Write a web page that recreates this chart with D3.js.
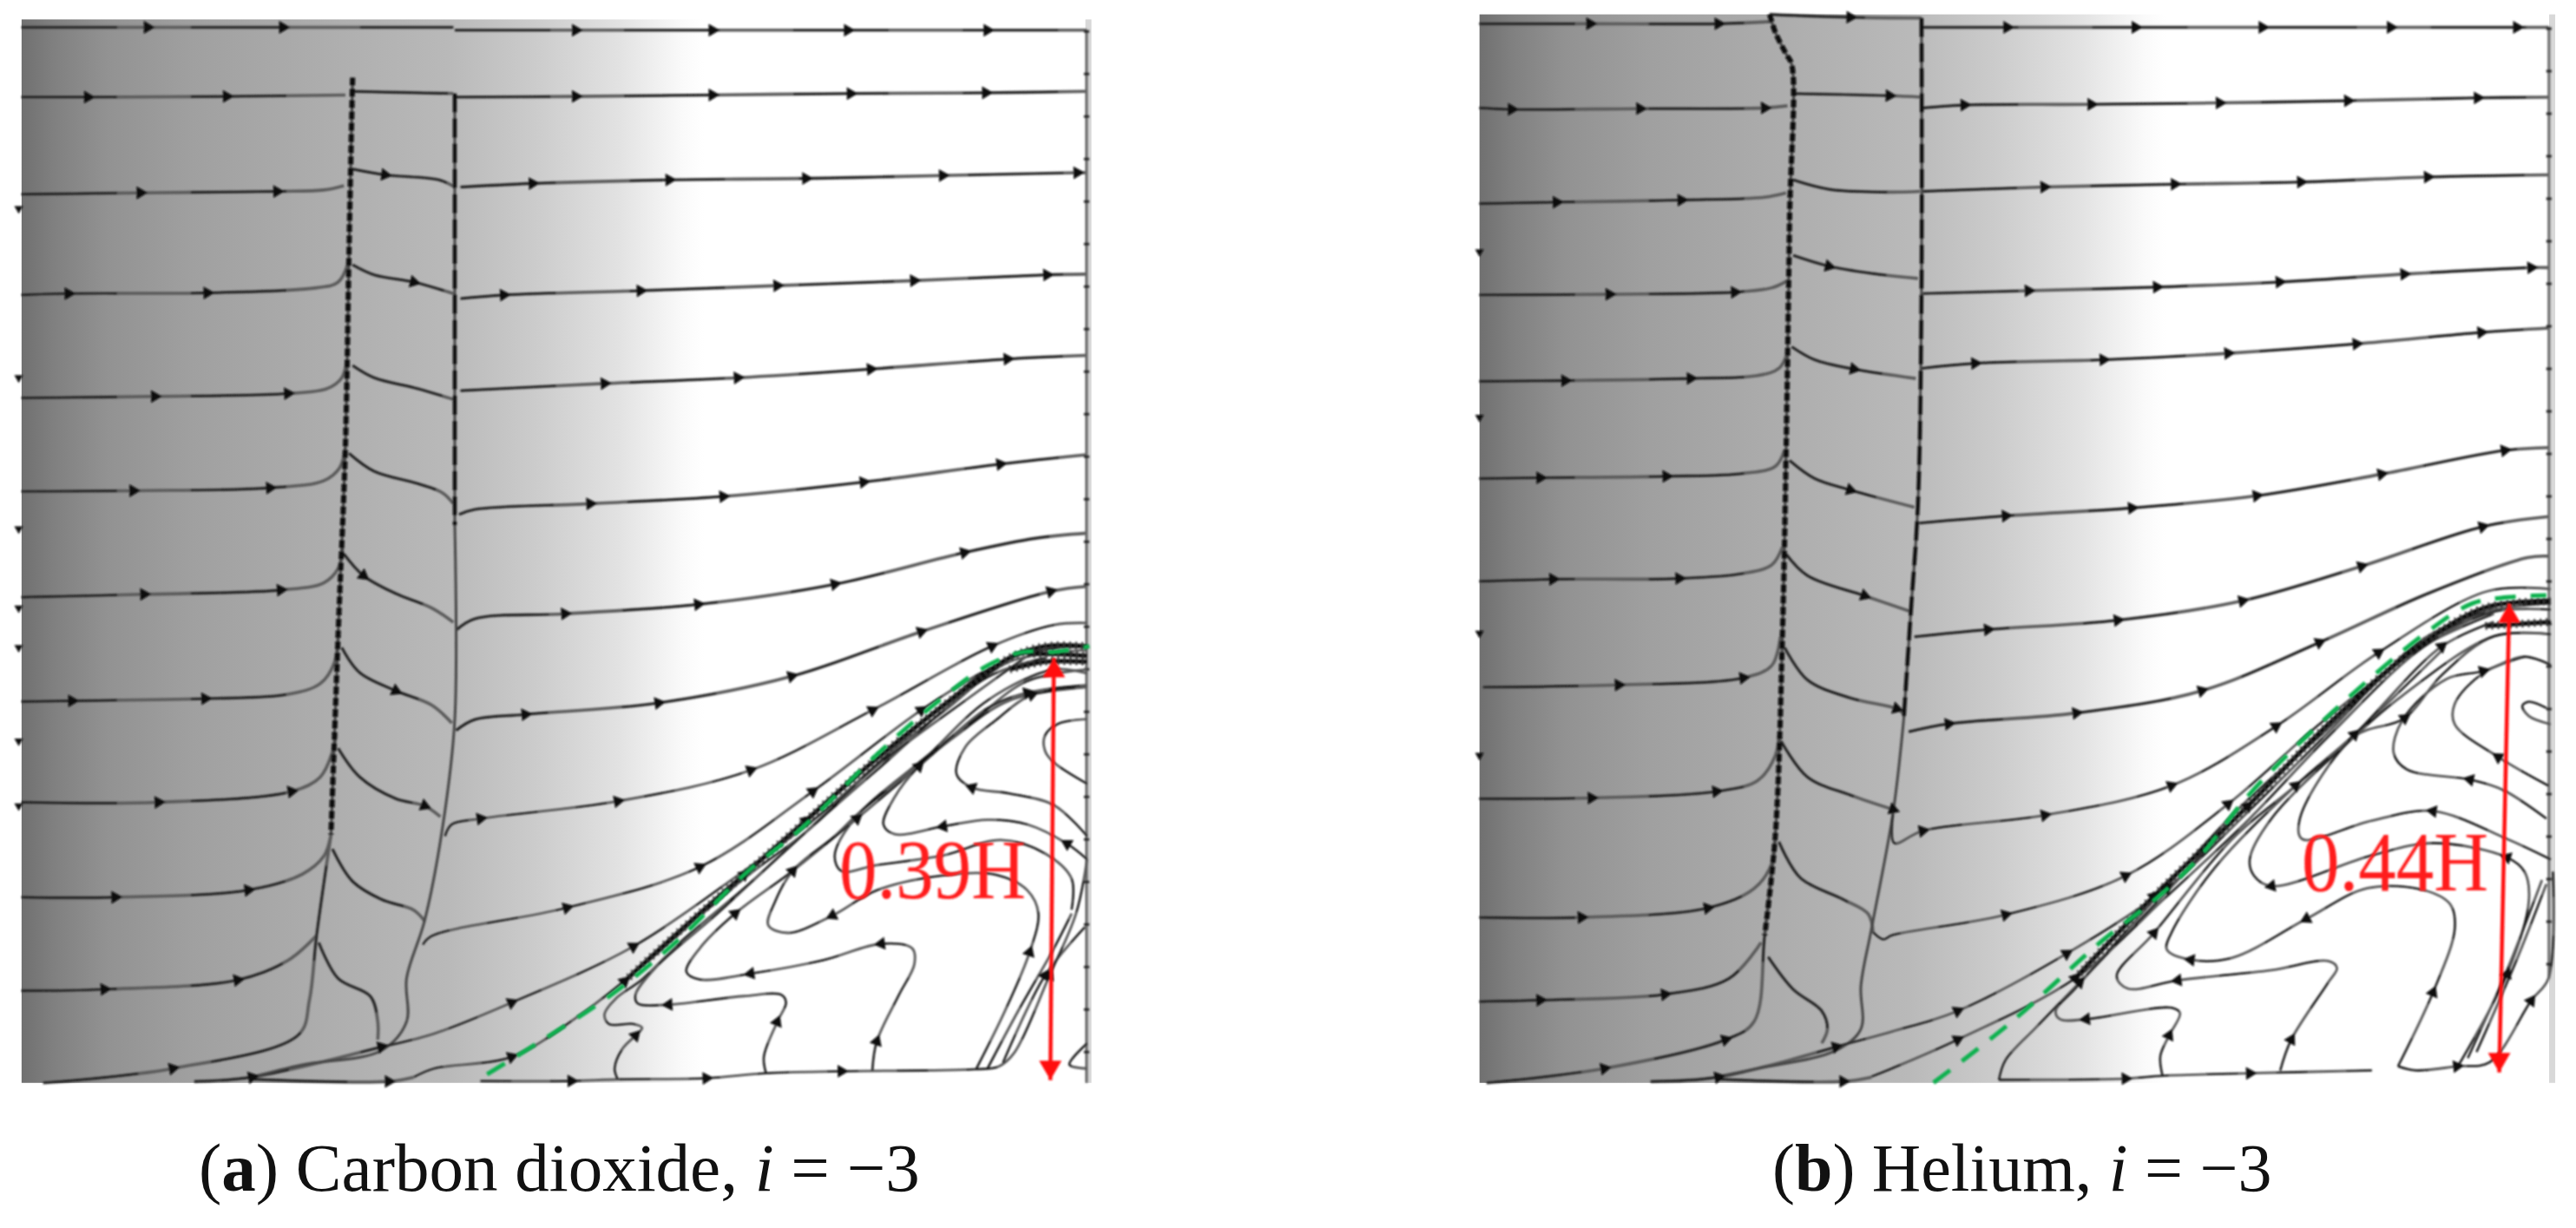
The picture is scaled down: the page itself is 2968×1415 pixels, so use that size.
<!DOCTYPE html>
<html><head><meta charset="utf-8">
<style>html,body{margin:0;background:#fff}svg{display:block}</style>
<script src="https://cdn.jsdelivr.net/npm/d3@7/dist/d3.min.js"></script>
</head><body><svg id="c" width="2968" height="1415"></svg>
<script>
// digitised in two reading grids: upper = whole panel crop, lower = recirculation crop. [x,y,arrowFlag]
const gradOffsets=[0,0.03,0.08,0.16,0.31,0.40,0.48,0.56,0.62,0.64,1];
const gradGreys=[112,128,146,160,176,185,203,226,250,255,255];

const aStreamUpper=[
[[30,38],[205,38,1],[393,38,1],[480,38],[630,38]],
[[632,42],[800,42,1],[990,42,1],[1178,42,1],[1372,42,1],[1510,42]],
[[30,135],[122,135,1],[315,134,1],[480,132]],
[[490,127],[630,130]],
[[632,135],[800,134,1],[990,132,1],[1182,130,1],[1370,129,1],[1510,127]],
[[30,270],[195,268,1],[385,266,1],[450,264],[478,258]],
[[490,235],[535,243,1],[610,250],[632,260]],
[[640,260],[740,255,1],[930,250,1],[1120,248,1],[1310,244,1],[1497,240,1],[1510,240]],
[[30,410],[95,408,1],[288,407,1],[440,400],[470,392],[484,365]],
[[490,368],[520,382],[575,392,1],[630,408]],
[[640,415],[700,410,1],[890,404,1],[1080,397,1],[1270,390,1],[1455,382,1],[1510,381]],
[[30,553],[215,551,1],[400,547,1],[455,540],[475,525],[482,500]],
[[490,508],[520,525],[580,540],[630,555]],
[[640,543],[840,533,1],[1025,525,1],[1210,513,1],[1400,499,1],[1510,494]],
[[30,683],[185,682,1],[375,678,1],[450,668],[472,650],[480,622]],
[[485,630],[520,655],[580,672],[615,685],[630,700]],
[[638,715],[660,708],[820,700,1],[1005,690,1],[1200,670,1],[1390,645,1],[1510,632]],
[[30,830],[200,826,1],[390,820,1],[450,810],[470,790],[476,760]],
[[478,770],[505,800,1],[550,825],[600,845],[630,865]],
[[635,875],[660,860],[785,853,1],[970,840,1],[1160,812,1],[1340,768,1],[1440,748],[1510,741]],
[[30,975],[100,974,1],[285,971,1],[400,965],[445,950],[465,920],[470,880]],
[[475,900],[500,935],[550,960,1],[600,980],[628,1005]],
[[634,1015],[660,1000],[730,993,1],[915,977,1],[1100,940,1],[1280,878,1],[1460,822,1],[1510,815]],
[[30,1115],[220,1115,1],[405,1100,1],[445,1080],[462,1045],[467,1020]],
[[470,1040],[500,1080],[550,1110],[590,1120,1],[612,1135]],
[[30,1247],[160,1247,1],[345,1237,1],[420,1215],[450,1190],[460,1160]],
[[462,1180],[490,1225],[530,1250],[575,1265],[590,1280]],
[[30,1377],[145,1375,1],[330,1362,1],[400,1335],[440,1300]],
[[443,1310],[470,1360],[515,1385],[525,1420],[525,1445]],
[[60,1505],[240,1485,1],[415,1438],[430,1390],[440,1300],[460,1160]],
[[270,1503],[350,1497,1],[530,1455,1]],
[[350,1500],[540,1503,1],[575,1497]]
];
const aLeftTicks=[[[26,290,1],[26,525,1],[26,735,1],[26,845,1],[26,900,1],[26,1030,1],[26,1120,1]]];
const aShock=[
[[490,108],[488,200],[485,350],[480,620],[470,880],[460,1160]],
[[632,130],[632,400],[632,730]],
[[632,730],[632,1000],[615,1150],[590,1280],[565,1360],[565,1420],[530,1460],[420,1480],[350,1497]]
];
const aWall=[[1510,42],[1510,1505]];
const aStreamLower=[
[[25,590],[40,560],[105,545,1],[415,500,1],[715,420,1],[990,265,1],[1260,100,1],[1400,45],[1475,40]],
[[-25,870],[-5,848],[300,775,1],[600,670,1],[855,475,1],[1100,265,1],[1250,160],[1380,100],[1475,100]],
[[-118,1134],[0,1100],[175,1020,1],[450,875,1],[700,680],[850,555],[1000,405],[1150,250],[1300,130],[1475,100]],
[[-45,1212],[0,1190],[175,1160,1],[320,1060],[450,945],[700,700],[850,570],[1010,395],[1160,260],[1300,140],[1475,110]],
[[415,1218],[408,1190],[425,1140],[455,1105,1],[470,1085],[450,1075],[395,1075],[385,1050],[410,1010],[470,960],[560,860],[700,725],[830,590],[1000,410],[1200,240],[1340,125]],
[[750,1202],[745,1160],[775,1070,1],[795,1020],[785,1000],[700,1003],[530,1025,1],[460,1022],[455,1000],[500,930],[640,790],[820,600],[1000,420],[1250,180],[1380,130]],
[[990,1195],[1000,1120,1],[1050,1000],[1085,920],[1080,880],[1010,868,1],[880,910],[715,945,1],[600,960],[570,940],[600,880],[680,790,1],[810,680],[955,545,1],[1095,410],[1250,260],[1340,220,1],[1475,200]],
[[1225,1190],[1290,1040],[1345,890,1],[1365,790],[1340,730],[1270,690],[1160,690],[1000,730],[900,795,1],[800,840],[755,820],[770,760],[810,680,1],[905,590],[960,530],[1090,410],[1250,240],[1400,160],[1475,170]],
[[1440,780],[1440,700],[1380,635],[1280,600],[1150,640],[1000,665],[920,680],[905,640],[950,545],[1090,405],[1220,290],[1340,190],[1475,160]],
[[1475,650],[1430,610,1],[1340,560],[1250,548],[1150,565,1],[1040,585],[1015,560],[1040,490],[1095,410,1],[1180,330],[1300,240],[1475,205]],
[[1475,590],[1400,510],[1300,480],[1215,465,1],[1180,430],[1200,360],[1270,290],[1350,225,1],[1475,205]],
[[1475,455],[1400,400],[1380,370],[1380,330],[1410,300],[1475,288]],
[[105,1222],[310,1222,1],[415,1218],[615,1215,1],[750,1202],[920,1197,1],[1220,1192],[1275,1185],[1310,1150],[1390,950,1],[1450,790],[1475,650]],
[[1250,1190],[1320,1040],[1400,880],[1440,790]],
[[1285,1175],[1380,950,1],[1470,825]],
[[1475,1125],[1435,1180],[1475,1190]]
];
const aThickLower=[
[[430,965,1],[560,830],[700,690,1],[840,550,1],[1000,390],[1200,210],[1300,130],[1380,100],[1475,100]],
[[1300,160],[1380,140],[1475,140]],
[[1340,120],[1400,120],[1475,125]]
];
const aGreen=[[120,1205],[240,1120],[400,1000],[550,860],[700,690],[830,570],[1000,380],[1130,250],[1250,150],[1330,115],[1400,115],[1480,100]];
const aRed=[[1400,130],[1392,1220]];

const bStreamUpper=[
[[30,33],[185,33,1],[365,33,1],[440,30]],
[[437,20],[550,24,1],[650,25]],
[[652,38],[770,38,1],[950,38,1],[1128,38,1],[1308,38,1],[1485,38,1],[1530,38]],
[[30,150],[75,152,1],[255,151,1],[430,150,1],[462,147]],
[[470,130],[605,133,1],[650,135]],
[[652,150],[710,146,1],[888,145,1],[1068,143,1],[1248,140,1],[1430,136,1],[1530,135]],
[[30,283],[138,281,1],[313,278,1],[430,274],[460,268]],
[[470,250],[520,263],[600,267],[648,266]],
[[650,266],[822,260,1],[1005,256,1],[1182,253,1],[1360,246,1],[1530,243]],
[[30,410],[212,409,1],[388,406,1],[440,400],[462,390]],
[[470,355],[520,370,1],[580,380],[645,387]],
[[652,408],[800,404,1],[980,399,1],[1152,392,1],[1327,381,1],[1505,372,1],[1530,372]],
[[30,530],[150,529,1],[326,526,1],[420,522],[450,512],[462,490]],
[[468,482],[500,500],[555,513,1],[642,526]],
[[650,512],[725,505,1],[905,500,1],[1080,491,1],[1260,478,1],[1435,462,1],[1530,456]],
[[30,665],[115,664,1],[292,662,1],[400,658],[445,648],[458,625]],
[[465,640],[500,665],[550,681,1],[640,705]],
[[647,727],[768,717,1],[945,706,1],[1120,689,1],[1295,659,1],[1468,626,1],[1530,622]],
[[30,808],[133,805,1],[310,804,1],[400,797],[440,785],[455,760]],
[[460,770],[490,800],[570,828,1],[635,850]],
[[640,885],[743,875,1],[925,862,1],[1100,835,1],[1267,787,1],[1437,732,1],[1530,718]],
[[35,955],[225,952,1],[400,942,1],[440,925],[452,885]],
[[458,900],[490,945],[550,970],[615,985,1],[625,992]],
[[632,1017],[688,1006,1],[867,991,1],[1043,960,1],[1208,893,1],[1360,825],[1500,775],[1530,773]],
[[30,1110],[187,1109,1],[362,1100,1],[420,1085],[445,1050],[450,1020]],
[[453,1030],[490,1080],[550,1105],[610,1125,1]],
[[30,1275],[173,1275,1],[350,1262,1],[415,1235],[440,1200],[445,1155]],
[[450,1170],[480,1220],[540,1250],[575,1270],[582,1295]],
[[30,1392],[115,1390,1],[290,1382,1],[380,1360],[425,1310]],
[[435,1330],[470,1375],[510,1405],[518,1430],[510,1450]],
[[40,1505],[205,1485,1],[375,1445,1],[415,1420],[430,1300],[445,1160]],
[[270,1503],[365,1497,1],[530,1455,1]],
[[365,1500],[540,1503,1],[580,1497]]
];
const bLeftTicks=[[[30,350,1],[30,580,1],[30,880,1],[30,1050,1]]];
const bShock=[
[[437,20],[445,45],[460,75],[468,90],[465,300],[460,630],[455,880],[445,1160],[430,1300]],
[[650,25],[650,400],[645,700],[635,850],[625,1000]],
[[625,1000],[610,1130],[580,1290],[565,1370],[565,1430],[530,1460],[420,1485],[360,1497]]
];
const bWall=[[1530,38],[1530,1360]];
const bStreamLower=[
[[2,590],[5,660],[70,630,1],[350,592,1],[640,520,1],[880,375,1],[1115,195,1],[1365,45],[1510,40]],
[[-44,877],[-20,895],[0,885],[260,835,1],[535,740,1],[770,565,1],[985,365],[1200,190],[1360,85],[1510,65]],
[[-129,1157],[0,1120],[150,1070,1],[400,930,1],[630,770,1],[810,590],[1000,390],[1220,160],[1380,90],[1510,75]],
[[-47,1230],[0,1210],[150,1140,1],[420,990],[630,790],[820,600],[1000,400],[1220,180],[1380,95],[1510,90]],
[[245,1238],[260,1190],[330,1110],[430,1000,1],[620,790],[815,570],[1000,370],[1220,170],[1380,85]],
[[620,1228],[615,1180],[635,1130,1],[660,1075],[640,1062],[445,1090,1],[385,1090],[375,1070],[420,1015],[600,800],[800,570],[1000,380],[1200,190],[1380,100]],
[[890,1215],[915,1140,1],[1000,1000],[1020,965],[1000,948],[870,970],[655,995,1],[540,1015],[515,985],[600,880,1],[780,650],[925,520,1],[1060,395,1],[1260,180,1],[1380,120]],
[[1160,1205],[1240,1025,1],[1290,870],[1280,810],[1220,775],[1090,770],[950,845,1],[780,940],[685,945,1],[630,920],[640,880],[740,720],[925,520],[1060,395],[1260,190]],
[[1300,1200],[1410,980,1],[1460,800],[1450,730],[1410,695,1],[1240,660],[1100,690],[870,765,1],[830,740],[820,700],[870,600],[1065,395],[1170,300],[1380,155],[1510,150]],
[[1510,700],[1410,650],[1240,582,1],[1100,605],[940,650],[935,600],[1060,400],[1175,355,1],[1260,250],[1380,155],[1510,150]],
[[1500,600],[1400,530],[1325,505,1],[1180,480],[1150,440],[1170,360],[1270,260],[1355,240,1],[1450,205],[1510,225]],
[[1505,520],[1390,450,1],[1290,370],[1290,320],[1355,245],[1450,205]],
[[1500,330],[1460,315],[1445,325],[1460,350],[1510,370]],
[[245,1238],[535,1235,1],[620,1228],[820,1222,1],[1100,1215]],
[[1160,1205],[1200,1215],[1295,1205,1],[1370,1195],[1465,1045,1],[1505,990],[1515,730]],
[[1320,1185],[1410,970],[1490,750]],
[[1340,1170],[1430,950],[1500,760]]
];
const bThickLower=[
[[420,990,1],[600,790,1],[815,570,1],[1000,370],[1200,185],[1360,85],[1510,70]],
[[1360,130],[1510,120]]
];
const bGreen=[[95,1245],[270,1100],[480,900],[600,800],[700,700],[820,540],[1010,340],[1220,150],[1330,75],[1410,60],[1500,55]];
const bRed=[[1415,75],[1392,1220]];

const captionA=["(","a",") Carbon dioxide, ","i"," = −3"];
const captionB=["(","b",") Helium, ","i"," = −3"];
const labels=["0.39H","0.44H"];

const svg=d3.select("#c");
const defs=svg.append("defs");
const blur=(id,s)=>defs.append("filter").attr("id",id).attr("x","-5%").attr("y","-5%").attr("width","110%").attr("height","110%")
  .append("feGaussianBlur").attr("stdDeviation",s);
blur("soft",0.9); blur("softer",1.1);
const line=(sx,sy)=>d3.line().x(d=>sx(d[0])).y(d=>sy(d[1])).curve(d3.curveCatmullRom.alpha(0.5));
const tri=d3.symbol().type(d3.symbolTriangle);

function panel(id,cfg){
  const g=svg.append("g");
  const ux=d3.scaleLinear([0,1568],cfg.ux), uy=d3.scaleLinear([0,1568],cfg.uy);
  const lx=d3.scaleLinear([0,1568],cfg.lx), ly=d3.scaleLinear([0,1568],cfg.ly);
  const grad=defs.append("linearGradient").attr("id",id);
  grad.selectAll("stop").data(gradOffsets).join("stop")
    .attr("offset",d=>d).attr("stop-color",(d,i)=>d3.rgb(gradGreys[i],gradGreys[i],gradGreys[i]));
  g.append("rect").attr("x",ux(cfg.box[0])).attr("y",uy(cfg.box[1]))
    .attr("width",ux(cfg.box[2])-ux(cfg.box[0])).attr("height",uy(cfg.box[3])-uy(cfg.box[1]))
    .attr("fill",`url(#${id})`);
  g.append("rect").attr("x",ux(cfg.box[2])-3).attr("y",uy(cfg.box[1])).attr("width",7)
    .attr("height",uy(cfg.box[3])-uy(cfg.box[1])).attr("fill","#d8d8d8");

  const ink=g.append("g").attr("filter","url(#soft)").attr("fill","none").attr("stroke-linecap","butt");
  const draw=(rows,sx,sy,w,col,dash)=>{
    const gen=line(sx,sy);
    ink.append("g").selectAll("path").data(rows).join("path")
      .attr("d",gen).attr("stroke",col).attr("stroke-width",w).attr("stroke-dasharray",dash||null);
  };
  const arrows=(rows,sx,sy,size)=>{
    const pts=[];
    rows.forEach(r=>r.forEach((p,i)=>{
      if(p[2]){const q=r[Math.min(i+1,r.length-1)],o=r[Math.max(i-1,0)];
        const a=Math.atan2(sy(q[1])-sy(o[1]),sx(q[0])-sx(o[0]))*180/Math.PI;
        pts.push({x:sx(p[0]),y:sy(p[1]),a});}
    }));
    ink.append("g").selectAll("path").data(pts).join("path")
      .attr("d",tri.size(size||95)()).attr("fill","#0c0c0c").attr("stroke","none")
      .attr("transform",d=>`translate(${d.x},${d.y}) rotate(${d.a+90})`);
  };
  draw(cfg.upper,ux,uy,3.6,"#5a5a5a");
  draw(cfg.upper,ux,uy,2.2,"#111","110 85");
  draw(cfg.shock,ux,uy,3,"#444");
  draw([cfg.shock[0]],ux,uy,6,"#0c0c0c","9 4");
  draw([cfg.shock[1]],ux,uy,4.5,"#111","22 7");
  draw([cfg.wall],ux,uy,3,"#666");
  draw([cfg.wall],ux,uy,6,"#222","3 46");
  draw(cfg.lower,lx,ly,2.8,"#555");
  draw(cfg.lower,lx,ly,1.8,"#111","36 44");
  draw(cfg.thick,lx,ly,5,"#0c0c0c");
  draw(cfg.thick,lx,ly,9,"#333","2 5");
  arrows(cfg.upper,ux,uy); arrows(cfg.lower,lx,ly); arrows(cfg.thick,lx,ly);
  arrows(cfg.ticks,ux,uy,45);

  const over=g.append("g").attr("filter","url(#soft)");
  over.append("path").datum(cfg.green).attr("d",line(lx,ly)).attr("fill","none")
    .attr("stroke","#0eb14f").attr("stroke-width",5).attr("stroke-dasharray","24 17");
  const [a,b]=cfg.red;
  over.append("line").attr("x1",lx(a[0])).attr("y1",ly(a[1])).attr("x2",lx(b[0])).attr("y2",ly(b[1]))
    .attr("stroke","#ff1010").attr("stroke-width",4.5);
  over.append("path").attr("d",d3.symbol().type(d3.symbolTriangle).size(290)())
    .attr("fill","#ff1010").attr("transform",`translate(${lx(a[0])},${ly(a[1])+15})`);
  over.append("path").attr("d",d3.symbol().type(d3.symbolTriangle).size(290)())
    .attr("fill","#ff1010").attr("transform",`translate(${lx(b[0])},${ly(b[1])-15}) rotate(180)`);
  g.append("text").attr("transform",`translate(${cfg.labelX},${cfg.labelY}) scale(1,1.12)`)
    .attr("font-family","'Liberation Serif',serif").attr("font-size",87).attr("fill","#ff1a1a")
    .attr("filter","url(#softer)").text(cfg.label);

  const t=svg.append("text").attr("x",cfg.capX).attr("y",1372)
    .attr("font-family","'Liberation Serif',serif").attr("font-size",cfg.capSize).attr("fill","#111");
  t.selectAll("tspan").data(cfg.caption).join("tspan").text(d=>d)
    .attr("font-weight",(d,i)=>i==1?"bold":null).attr("font-style",(d,i)=>i==3?"italic":null);
}

panel("ga",{ux:[0,1300],uy:[0,1300],lx:[500,1300],ly:[700,1400],box:[30,27,1512,1505],
  upper:aStreamUpper,shock:aShock,wall:aWall,lower:aStreamLower,thick:aThickLower,ticks:aLeftTicks,green:aGreen,red:aRed,
  label:labels[0],labelX:967,labelY:1035,caption:captionA,capX:229,capSize:79});
panel("gb",{ux:[1680,2968],uy:[0,1300],lx:[2180,2968],ly:[660,1400],box:[30,20,1534,1505],
  upper:bStreamUpper,shock:bShock,wall:bWall,lower:bStreamLower,thick:bThickLower,ticks:bLeftTicks,green:bGreen,red:bRed,
  label:labels[1],labelX:2652,labelY:1026,caption:captionB,capX:2042,capSize:78});
</script></body></html>
